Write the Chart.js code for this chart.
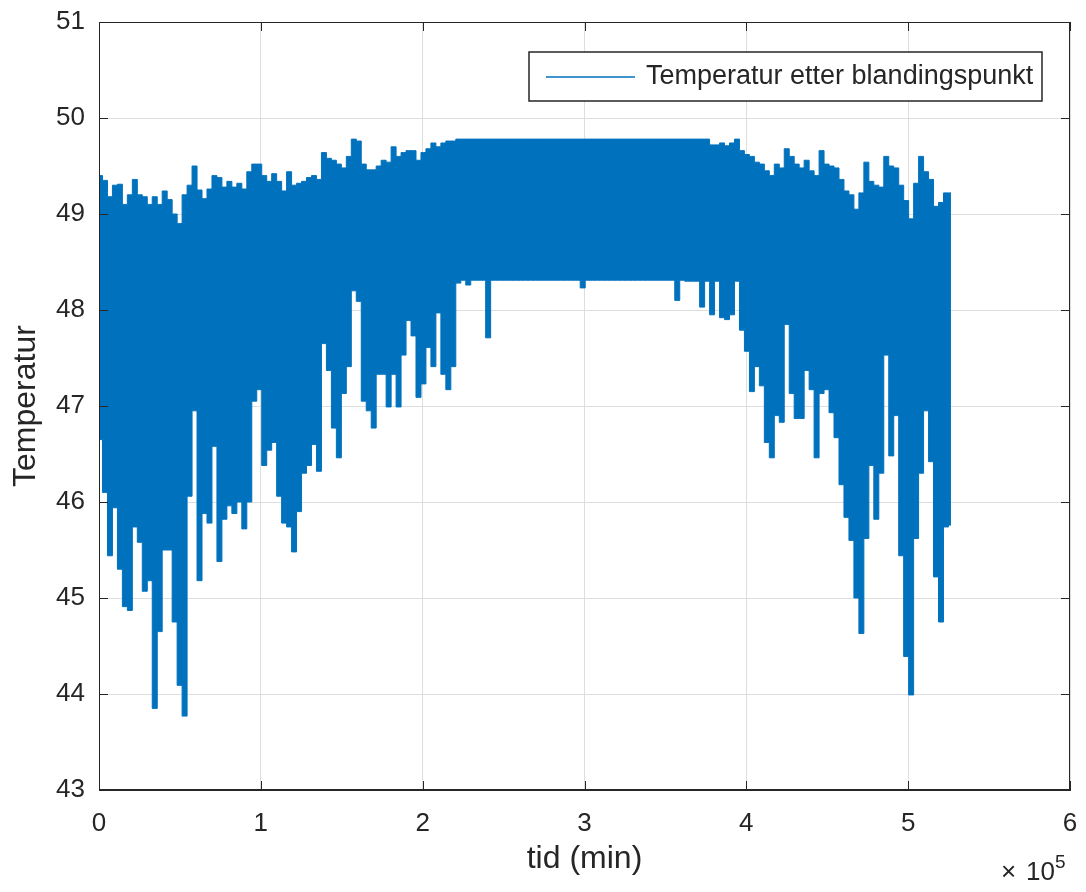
<!DOCTYPE html>
<html>
<head>
<meta charset="utf-8">
<script src="https://cdn.jsdelivr.net/npm/chart.js@4.4.1/dist/chart.umd.min.js"></script>
<style>
  html, body { margin: 0; padding: 0; background: #fff; }
  #wrap { width: 1086px; height: 892px; }
</style>
</head>
<body>
<div id="wrap"><canvas id="tempChart" width="1086" height="892"></canvas></div>
<script>
// envelope: one max/min pair every 3075 min
const tidStart = 615;
const tidStep = 3075;

const tempUpper = [
  49.40, 49.35, 49.18, 49.30, 49.31, 49.10, 49.20, 49.36, 49.20, 49.18,
  49.10, 49.18, 49.10, 49.24, 49.15, 49.00, 48.90, 49.20, 49.30, 49.50,
  49.25, 49.16, 49.26, 49.40, 49.38, 49.28, 49.34, 49.28, 49.32, 49.26,
  49.44, 49.52, 49.52, 49.40, 49.34, 49.42, 49.34, 49.24, 49.44, 49.30,
  49.32, 49.34, 49.38, 49.40, 49.36, 49.64, 49.58, 49.56, 49.52, 49.48,
  49.60, 49.78, 49.76, 49.52, 49.46, 49.46, 49.50, 49.56, 49.54, 49.70,
  49.60, 49.64, 49.66, 49.66, 49.56, 49.64, 49.68, 49.74, 49.70, 49.74,
  49.76, 49.76, 49.78, 49.78, 49.78, 49.78, 49.78, 49.78, 49.78, 49.78,
  49.78, 49.78, 49.78, 49.78, 49.78, 49.78, 49.78, 49.78, 49.78, 49.78,
  49.78, 49.78, 49.78, 49.78, 49.78, 49.78, 49.78, 49.78, 49.78, 49.78,
  49.78, 49.78, 49.78, 49.78, 49.78, 49.78, 49.78, 49.78, 49.78, 49.78,
  49.78, 49.78, 49.78, 49.78, 49.78, 49.78, 49.78, 49.78, 49.78, 49.78,
  49.78, 49.78, 49.78, 49.72, 49.72, 49.74, 49.71, 49.74, 49.78, 49.66,
  49.62, 49.60, 49.54, 49.52, 49.45, 49.40, 49.52, 49.48, 49.68, 49.60,
  49.52, 49.48, 49.56, 49.45, 49.40, 49.66, 49.52, 49.50, 49.48, 49.36,
  49.24, 49.20, 49.05, 49.22, 49.54, 49.34, 49.30, 49.28, 49.60, 49.50,
  49.48, 49.30, 49.14, 48.95, 49.32, 49.60, 49.44, 49.36, 49.08, 49.12,
  49.22, 49.22
];

const tempLower = [
  46.65, 46.10, 45.44, 45.94, 45.30, 44.91, 44.87, 45.74, 45.58, 45.07,
  45.18, 43.85, 44.65, 45.50, 45.50, 44.75, 44.09, 43.77, 46.06, 46.95,
  45.18, 45.88, 45.78, 46.58, 45.38, 45.82, 45.96, 45.88, 46.00, 45.72,
  46.00, 47.05, 47.17, 46.38, 46.54, 46.62, 46.06, 45.78, 45.74, 45.48,
  45.90, 46.30, 46.38, 46.60, 46.32, 47.65, 47.37, 46.77, 46.46, 47.13,
  47.41, 48.20, 48.09, 47.05, 46.95, 46.77, 47.33, 47.33, 46.99, 47.33,
  46.99, 47.53, 47.89, 47.73, 47.09, 47.23, 47.61, 47.41, 47.97, 47.33,
  47.17, 47.41, 48.28, 48.31, 48.26, 48.31, 48.31, 48.31, 47.71, 48.31,
  48.31, 48.31, 48.31, 48.31, 48.31, 48.31, 48.31, 48.31, 48.31, 48.31,
  48.31, 48.31, 48.31, 48.31, 48.31, 48.31, 48.31, 48.23, 48.31, 48.31,
  48.31, 48.31, 48.31, 48.31, 48.31, 48.31, 48.31, 48.31, 48.31, 48.31,
  48.31, 48.31, 48.31, 48.31, 48.31, 48.31, 48.10, 48.31, 48.30, 48.30,
  48.30, 48.03, 48.30, 47.95, 48.30, 47.92, 47.90, 47.95, 48.30, 47.79,
  47.57, 47.15, 47.41, 47.21, 46.62, 46.46, 46.90, 46.83, 47.85, 47.13,
  46.87, 46.87, 47.37, 47.17, 46.46, 47.13, 47.17, 46.93, 46.67, 46.18,
  45.84, 45.60, 45.00, 44.63, 45.62, 46.38, 45.82, 46.30, 47.53, 46.48,
  46.90, 45.44, 44.39, 43.99, 45.62, 46.30, 46.95, 46.42, 45.22, 44.75,
  45.74, 45.76
];

const xTicks = [0, 1, 2, 3, 4, 5, 6];           // in units of 10^5 min
const yTicks = [43, 44, 45, 46, 47, 48, 49, 50, 51];

const seriesLabel = "Temperatur etter blandingspunkt";
const lineColor = "#0072BD";
const textColor = "#262626";
const fontFamily = "'Liberation Sans', Arial, Helvetica, sans-serif";

const tid = tempUpper.map((_, i) => tidStart + i * tidStep);
const upperPts = tid.map((t, i) => ({ x: t, y: tempUpper[i] }));
const lowerPts = tid.map((t, i) => ({ x: t, y: tempLower[i] }));

const matlabBox = {
  id: "matlabBox",
  afterDraw(chart) {
    const ctx = chart.ctx;
    const a = chart.chartArea;
    const xs = chart.scales.x;
    const ys = chart.scales.y;
    ctx.save();

    // axes box
    ctx.strokeStyle = textColor;
    ctx.lineWidth = 1;
    ctx.strokeRect(a.left + 0.5, a.top + 0.5, a.right - a.left - 1, a.bottom - a.top - 1);

    // inward tick marks on all four sides
    const tl = 9;
    ctx.beginPath();
    xs.ticks.forEach((t) => {
      const px = Math.round(xs.getPixelForValue(t.value)) + 0.5;
      ctx.moveTo(px, a.bottom); ctx.lineTo(px, a.bottom - tl);
      ctx.moveTo(px, a.top); ctx.lineTo(px, a.top + tl);
    });
    ys.ticks.forEach((t) => {
      const py = Math.round(ys.getPixelForValue(t.value)) + 0.5;
      ctx.moveTo(a.left, py); ctx.lineTo(a.left + tl, py);
      ctx.moveTo(a.right, py); ctx.lineTo(a.right - tl, py);
    });
    ctx.stroke();

    // legend box
    const lx = a.right - 541;
    const ly = a.top + 30;
    ctx.fillStyle = "#fff";
    ctx.fillRect(lx, ly, 513, 49);
    ctx.lineWidth = 1.5;
    ctx.strokeStyle = textColor;
    ctx.strokeRect(lx, ly, 513, 49);
    ctx.strokeStyle = lineColor;
    ctx.lineWidth = 1.5;
    ctx.beginPath();
    ctx.moveTo(lx + 17, ly + 25);
    ctx.lineTo(lx + 106, ly + 25);
    ctx.stroke();
    ctx.fillStyle = textColor;
    ctx.font = "27px " + fontFamily;
    ctx.textBaseline = "middle";
    ctx.textAlign = "left";
    ctx.fillText(chart.data.datasets[0].label, lx + 117, ly + 25);

    // x exponent
    ctx.textBaseline = "alphabetic";
    ctx.font = "26px " + fontFamily;
    ctx.fillText("\u00d7", 1001, 880);
    ctx.textAlign = "right";
    ctx.fillText("10", 1055, 880);
    ctx.textAlign = "left";
    ctx.font = "19px " + fontFamily;
    ctx.fillText("5", 1055, 868);

    ctx.restore();
  }
};

const ctx = document.getElementById("tempChart").getContext("2d");

new Chart(ctx, {
  type: "line",
  data: {
    datasets: [
      {
        label: seriesLabel,
        data: upperPts,
        borderColor: lineColor,
        backgroundColor: lineColor,
        borderWidth: 1,
        pointRadius: 0,
        stepped: "middle",
        fill: { target: 1 }
      },
      {
        label: "min",
        data: lowerPts,
        borderColor: lineColor,
        backgroundColor: lineColor,
        borderWidth: 1,
        pointRadius: 0,
        stepped: "middle",
        fill: false
      }
    ]
  },
  options: {
    responsive: false,
    animation: false,
    devicePixelRatio: 1,
    layout: { padding: { top: 22, right: 16, left: 0, bottom: 0 } },
    plugins: {
      legend: { display: false },
      tooltip: { enabled: false }
    },
    scales: {
      x: {
        type: "linear",
        min: xTicks[0] * 1e5,
        max: xTicks[xTicks.length - 1] * 1e5,
        afterBuildTicks: (scale) => {
          scale.ticks = xTicks.map((v) => ({ value: v * 1e5 }));
        },
        afterFit: (scale) => {
          scale.height = 102;
          scale.paddingLeft = 0;
          scale.paddingRight = 0;
        },
        ticks: {
          callback: (v) => String(v / 1e5),
          color: textColor,
          font: { family: fontFamily, size: 26 },
          padding: 18,
          maxRotation: 0
        },
        grid: { color: "#dedede", lineWidth: 1, drawTicks: false },
        border: { color: textColor, width: 1 },
        title: {
          display: true,
          text: "tid (min)",
          color: textColor,
          font: { family: fontFamily, size: 32 },
          padding: { top: 0, bottom: 14 }
        }
      },
      y: {
        type: "linear",
        min: yTicks[0],
        max: yTicks[yTicks.length - 1],
        afterBuildTicks: (scale) => {
          scale.ticks = yTicks.map((v) => ({ value: v }));
        },
        afterFit: (scale) => {
          scale.width = 99;
          scale.paddingTop = 0;
          scale.paddingBottom = 0;
        },
        ticks: {
          color: textColor,
          font: { family: fontFamily, size: 26 },
          padding: 14
        },
        grid: { color: "#dedede", lineWidth: 1, drawTicks: false },
        border: { color: textColor, width: 1 },
        title: {
          display: true,
          text: "Temperatur",
          color: textColor,
          font: { family: fontFamily, size: 32 },
          padding: { top: 7, bottom: 0 }
        }
      }
    }
  },
  plugins: [matlabBox]
});
</script>
</body>
</html>
